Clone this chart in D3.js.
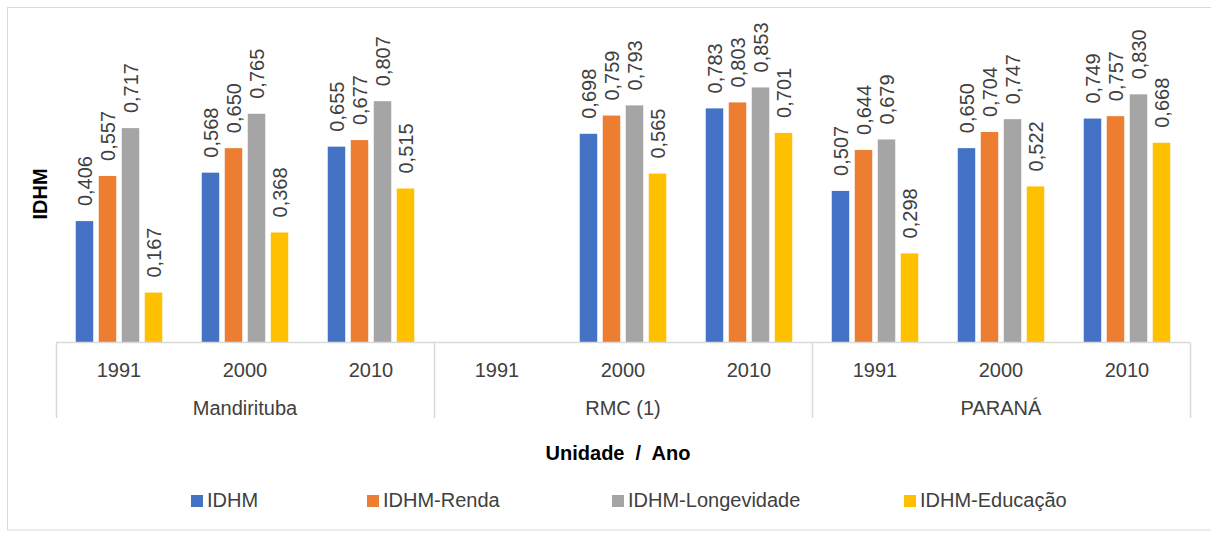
<!DOCTYPE html>
<html>
<head>
<meta charset="utf-8">
<script src="https://cdn.jsdelivr.net/npm/d3@7"></script>
<style>
  html, body { margin: 0; padding: 0; background: #fff; }
  svg { display: block; font-family: "Liberation Sans", Arial, sans-serif; }
</style>
</head>
<body>
<svg id="chart" width="1211" height="534"></svg>
<script>
// ---- data ----
const groups = ["Mandirituba", "RMC (1)", "PARANÁ"];
const years = ["1991", "2000", "2010"];
const seriesNames = ["IDHM", "IDHM-Renda", "IDHM-Longevidade", "IDHM-Educação"];
const idhm       = [0.406, 0.568, 0.655, null, 0.698, 0.783, 0.507, 0.650, 0.749];
const idhmRenda  = [0.557, 0.650, 0.677, null, 0.759, 0.803, 0.644, 0.704, 0.757];
const idhmLong   = [0.717, 0.765, 0.807, null, 0.793, 0.853, 0.679, 0.747, 0.830];
const idhmEduc   = [0.167, 0.368, 0.515, null, 0.565, 0.701, 0.298, 0.522, 0.668];
const colors = ["#4472C4", "#ED7D31", "#A5A5A5", "#FFC000"];

const seriesValues = [idhm, idhmRenda, idhmLong, idhmEduc];
const categories = [];
groups.forEach(g => years.forEach(y => categories.push(g + "|" + y)));

const svg = d3.select("#chart");
const fontFam = '"Liberation Sans", Arial, sans-serif';
const txtColor = "#404040";
const fmt = d3.formatLocale({decimal: ",", thousands: ".", grouping: [3], currency: ["R$", ""]}).format(".3f");

// outer border
svg.append("rect").attr("x", 7.5).attr("y", 7.5).attr("width", 1215).attr("height", 522.5)
  .attr("fill", "none").attr("stroke", "#d9d9d9").attr("stroke-width", 1);

const plotL = 56, plotR = 1190, baseY = 342.5, topY = 43.5;

const x0 = d3.scaleBand().domain(categories).range([plotL, plotR]).padding(0);
const innerW = 86.5;
const x1 = d3.scaleBand().domain(seriesNames).range([0, innerW]).paddingInner(0.24).paddingOuter(0);
const y = d3.scaleLinear().domain([0, 1]).range([baseY, topY]);

// bars
const barData = [];
categories.forEach((c, ci) => {
  seriesNames.forEach((s, si) => {
    const v = seriesValues[si][ci];
    if (v !== null) barData.push({c, s, si, v});
  });
});

const off = (x0.bandwidth() - innerW) / 2;
const gBars = svg.append("g");
gBars.selectAll("rect").data(barData).enter().append("rect")
  .attr("x", d => x0(d.c) + off + x1(d.s))
  .attr("y", d => y(d.v))
  .attr("width", x1.bandwidth())
  .attr("height", d => y(0) - y(d.v))
  .attr("fill", d => colors[d.si]);

// data labels (rotated)
gBars.selectAll("text").data(barData).enter().append("text")
  .attr("transform", d => {
    const cx = x0(d.c) + off + x1(d.s) + x1.bandwidth() / 2;
    const ty = y(d.v) - 15;
    return `translate(${cx},${ty}) rotate(-90)`;
  })
  .attr("dy", "0.36em")
  .attr("text-anchor", "start")
  .attr("font-size", 20)
  .attr("fill", txtColor)
  .text(d => fmt(d.v));

// category axis (bottom)
const axisG = svg.append("g");
axisG.append("line").attr("x1", plotL).attr("x2", plotR).attr("y1", baseY).attr("y2", baseY)
  .attr("stroke", "#d9d9d9").attr("stroke-width", 1.5);

// group separators
const groupScale = d3.scaleBand().domain(groups).range([plotL, plotR]).padding(0);
const sepXs = groups.map(g => groupScale(g)).concat([plotR]);
axisG.selectAll("line.sep").data(sepXs).enter().append("line").attr("class", "sep")
  .attr("x1", d => Math.round(d) + 0.5).attr("x2", d => Math.round(d) + 0.5)
  .attr("y1", baseY).attr("y2", 418)
  .attr("stroke", "#d9d9d9").attr("stroke-width", 1.5);

// year labels
axisG.selectAll("text.yr").data(categories).enter().append("text").attr("class", "yr")
  .attr("x", d => x0(d) + x0.bandwidth() / 2)
  .attr("y", 377)
  .attr("text-anchor", "middle")
  .attr("font-size", 20)
  .attr("fill", txtColor)
  .text(d => d.split("|")[1]);

// group labels
axisG.selectAll("text.grp").data(groups).enter().append("text").attr("class", "grp")
  .attr("x", d => groupScale(d) + groupScale.bandwidth() / 2)
  .attr("y", 415)
  .attr("text-anchor", "middle")
  .attr("font-size", 20)
  .attr("fill", txtColor)
  .text(d => d);

// axis titles
svg.append("text").attr("x", 618).attr("y", 460).attr("text-anchor", "middle")
  .attr("font-size", 20).attr("font-weight", "bold").attr("fill", "#000")
  .attr("xml:space", "preserve")
  .text("Unidade  /  Ano");

svg.append("text").attr("transform", "translate(40,194) rotate(-90)")
  .attr("text-anchor", "middle").attr("dy", "0.36em")
  .attr("font-size", 20).attr("font-weight", "bold").attr("fill", "#000")
  .text("IDHM");

// legend
const legendStarts = [191, 367, 612, 904];
const legG = svg.append("g");
seriesNames.forEach((s, i) => {
  const lx = legendStarts[i];
  legG.append("rect").attr("x", lx).attr("y", 495).attr("width", 12).attr("height", 12)
    .attr("fill", colors[i]);
  legG.append("text").attr("x", lx + 16).attr("y", 507)
    .attr("font-size", 20).attr("fill", txtColor).text(s);
});
</script>
</body>
</html>
